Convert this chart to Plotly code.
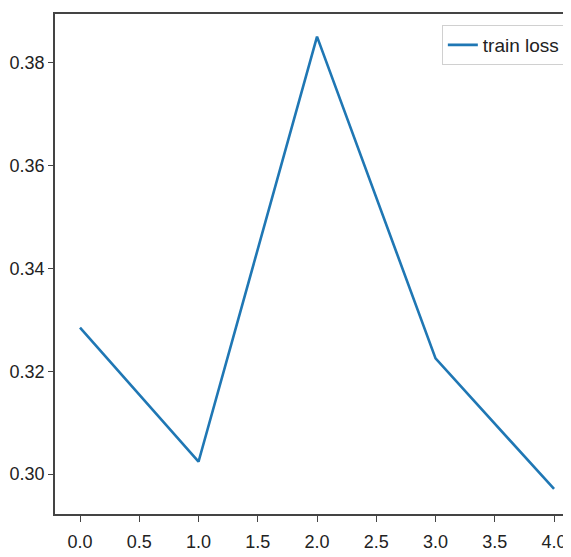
import plotly.graph_objects as go

epochs = [0, 1, 2, 3, 4]
train_loss = [0.3285, 0.3024, 0.3851, 0.3225, 0.2971]
series_name = "train loss"
x_ticks = [0.0, 0.5, 1.0, 1.5, 2.0, 2.5, 3.0, 3.5, 4.0]
y_ticks = [0.30, 0.32, 0.34, 0.36, 0.38]

FONT = "Liberation Sans, Arial, sans-serif"

fig = go.Figure()
fig.add_trace(go.Scatter(
    x=epochs, y=train_loss, mode="lines", name=series_name,
    line=dict(color="#1f77b4", width=2.6),
))

# the page body has an 8px default margin, so the figure is sized/offset to compensate
fig.update_layout(
    width=563, height=549,
    margin=dict(l=47, r=0, t=6, b=43),
    paper_bgcolor="white", plot_bgcolor="white",
    font=dict(family=FONT, size=18, color="#222"),
    showlegend=True,
    legend=dict(
        x=0.99, y=0.978, xanchor="right", yanchor="top",
        bordercolor="#d0d0d0", borderwidth=1, bgcolor="white",
        font=dict(family=FONT, size=19, color="#222"),
        itemwidth=30,
    ),
    xaxis=dict(
        range=[-0.211, 4.143], automargin=False,
        tickvals=x_ticks, ticktext=[f"{v:.1f}" for v in x_ticks],
        showgrid=False, zeroline=False,
        showline=True, linecolor="#444", linewidth=1.5, mirror=True,
        ticks="outside", ticklen=6, tickcolor="#444", tickwidth=1.3,
        ticklabelstandoff=5,
    ),
    yaxis=dict(
        range=[0.29223, 0.38951], automargin=False,
        tickvals=y_ticks, ticktext=[f"{v:.2f}" for v in y_ticks],
        showgrid=False, zeroline=False,
        showline=True, linecolor="#444", linewidth=1.5, mirror=False,
        ticks="outside", ticklen=5, tickcolor="#444", tickwidth=1.3,
    ),
)

fig.write_html("out.html")
